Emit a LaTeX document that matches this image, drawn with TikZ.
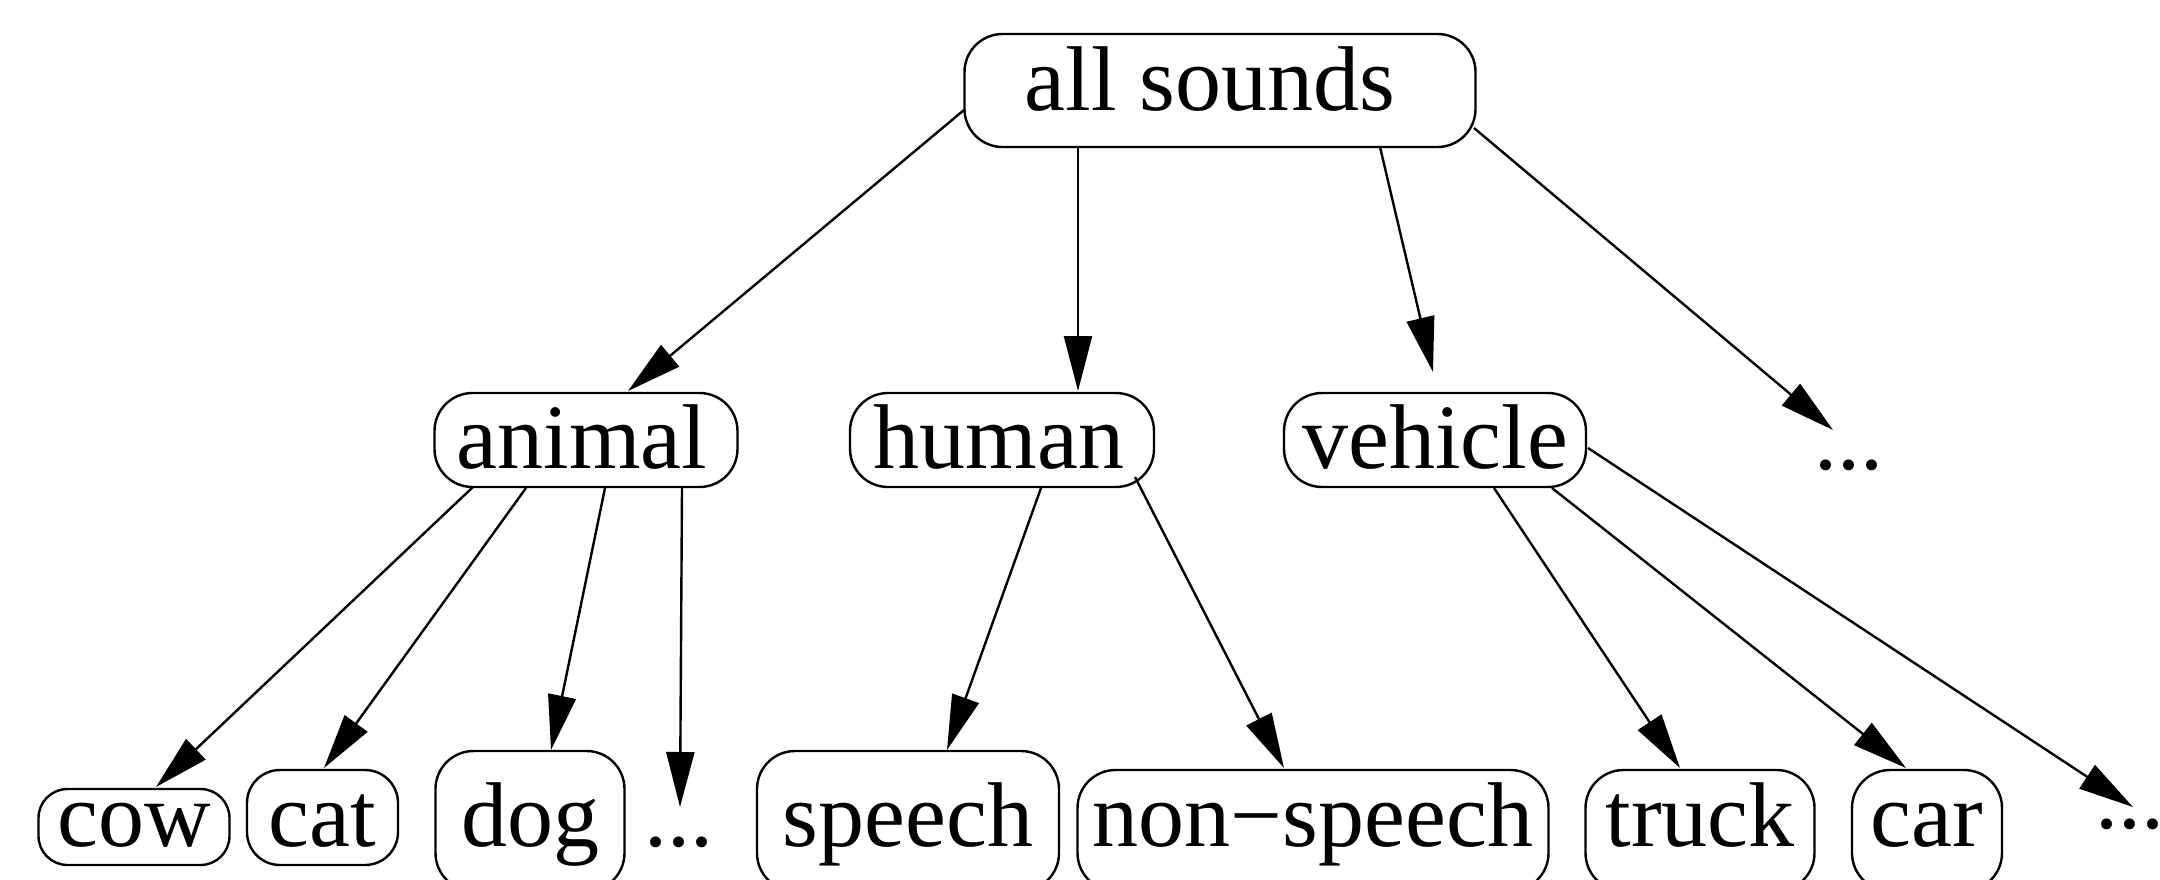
\documentclass[tikz,border=0pt]{standalone}
\usepackage{fontspec}
\setmainfont{Liberation Serif}
\usetikzlibrary{arrows.meta,calc}
\begin{document}
\begin{tikzpicture}[x=1pt,y=-1pt,
  box/.style={draw, line width=2.4pt, rounded corners=38pt, inner sep=0pt, anchor=base, font=\fontsize{92}{110}\selectfont},
  smallbox/.style={box, rounded corners=29pt},
  dotsnode/.style={inner sep=0pt, anchor=base, font=\fontsize{92}{110}\selectfont},
  edge/.style={line width=2.4pt, -{Triangle[length=55pt,width=28pt]}}]
\useasboundingbox (0,0) rectangle (2160,879);
% top
\node[box, text height=76pt, text depth=37pt, minimum width=511pt] (all) at (1220,110) {all sounds\hspace*{20pt}};
% middle
\node[box, text height=75pt, text depth=19pt, minimum width=303pt] (animal) at (586,468) {animal\hspace*{8pt}};
\node[box, text height=75pt, text depth=19pt, minimum width=304pt] (human) at (1002,468) {human\hspace*{6pt}};
\node[box, text height=75pt, text depth=19pt, minimum width=302pt] (vehicle) at (1435,468) {vehicle};
\node[dotsnode] (d1) at (1849,469) {...};
% bottom
\node[smallbox, text height=57pt, text depth=19pt, minimum width=191pt] (cow) at (134,846) {cow};
\node[smallbox, rounded corners=33pt, text height=76pt, text depth=19pt, minimum width=151pt] (cat) at (322.5,846) {cat};
\node[box, text height=95pt, text depth=45pt, minimum width=189pt] (dog) at (530,846) {dog};
\node[dotsnode] (d2) at (679,846) {...};
\node[box, text height=95pt, text depth=45pt, minimum width=302pt] (speech) at (908,846) {speech};
\node[box, text height=76pt, text depth=45pt, minimum width=471pt] (ns) at (1313,846) {non−speech};
\node[box, text height=76pt, text depth=45pt, minimum width=229pt] (truck) at (1700,846) {truck};
\node[box, text height=76pt, text depth=45pt, minimum width=150pt] (car) at (1927,846) {car};
\node[dotsnode] (d3) at (2130,828) {...};
% edges from top
\draw[edge] ($(all.base)+(-256,0)$) -- ($(animal.base)+(42,-77)$);
\draw[edge] ($(all.base)+(-142,37)$) -- ($(human.base)+(76,-77)$);
\draw[edge] ($(all.base)+(160,37)$) -- ($(vehicle.base)+(-2,-96)$);
\draw[edge] ($(all.base)+(254,18)$) -- ($(d1.base)+(-16,-39)$);
% edges from animal
\draw[edge] ($(animal.base)+(-113,19)$) -- ($(cow.base)+(22,-59)$);
\draw[edge] ($(animal.base)+(-60,20)$) -- ($(cat.base)+(1.5,-78)$);
\draw[edge] ($(animal.base)+(19,20)$) -- ($(dog.base)+(21,-96)$);
\draw[edge] ($(animal.base)+(96,20)$) -- ($(d2.base)+(1,-39)$);
% edges from human
\draw[edge] ($(human.base)+(39,20)$) -- ($(speech.base)+(39,-96)$);
\draw[edge] ($(human.base)+(133,9)$) -- ($(ns.base)+(-29,-78)$);
% edges from vehicle
\draw[edge] ($(vehicle.base)+(59,20)$) -- ($(truck.base)+(-20,-78)$);
\draw[edge] ($(vehicle.base)+(117,20)$) -- ($(car.base)+(-21,-78)$);
\draw[edge] ($(vehicle.base)+(153,-20)$) -- ($(d3.base)+(3,-21)$);
\end{tikzpicture}
\end{document}
